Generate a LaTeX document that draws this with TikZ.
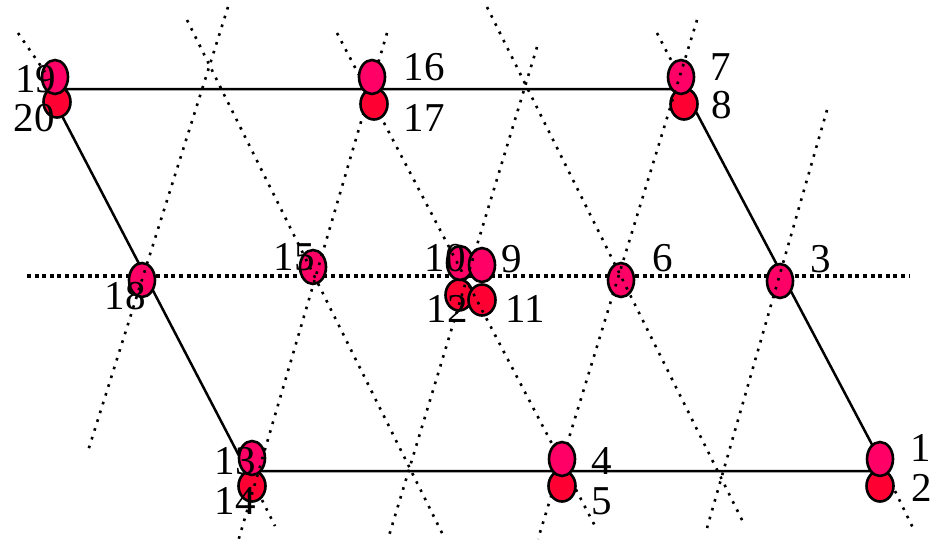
\documentclass[tikz,border=0pt]{standalone}
\usepackage{fontspec}
\setmainfont{Liberation Serif}
\usetikzlibrary{shapes.geometric}
\definecolor{sitepink}{RGB}{255,0,102}
\definecolor{sitered}{RGB}{255,0,51}

\begin{document}
\begin{tikzpicture}[x=1pt,y=-1pt,
  site/.style={ellipse,draw=black,line width=2.6pt,inner sep=0pt,
               minimum width=26pt,minimum height=34pt,fill=sitepink},
  lowsite/.style={site,minimum width=27pt,minimum height=31pt,fill=sitered},
  edge/.style={line width=2.5pt},
  axis/.style={line width=4pt,dash pattern=on 4pt off 3.6pt},
  guide/.style={line width=2.6pt,dash pattern=on 2.6pt off 6.6pt},
  num/.style={font=\fontsize{41}{41}\selectfont,inner sep=0pt}]

\useasboundingbox (0,0) rectangle (939,546);

% ---- corners of the cell ----
\coordinate (tl) at (48,89);
\coordinate (tr) at (684,89);
\coordinate (br) at (886,471);
\coordinate (bl) at (247,471);
\coordinate (al) at (27,276);
\coordinate (ar) at (909,276);

\draw[edge] (tl) -- (tr) -- (br) -- (bl) -- cycle;
\draw[axis] (al) -- (ar);

% ---- sites: \site{name}{x}{y}{style}
\newcommand{\site}[4]{
  \node[#4] (s#1) at (#2,#3) {};
}

% under the guide lines
\site{20}{57}{102}{lowsite}
\site{19}{55}{77}{site}
\site{8}{684}{104}{lowsite}
\site{7}{681}{77}{site}
\site{18}{142}{280}{site}
\site{15}{313}{267}{site}
\site{12}{459}{295}{lowsite}
\site{11}{482}{300}{lowsite}
\site{10}{460}{263}{site}
\site{9}{482}{265}{site}
\site{6}{621}{280}{site}
\site{3}{780}{281}{site}
\site{14}{252}{486}{lowsite}
\site{13}{252}{458}{site}

% ---- dotted guide lines
\foreach \xa/\ya/\xb/\yb in {18/33/45/72, 228/7/88/451, 187/20/445/539,
    387/33/237/545, 337/33/595/526, 537/47/388/539, 487/7/745/526,
    697/20/538/539, 657/33/672/62, 827/110/707/528, 895/491/913/528,
    262/500/275/526} {
  \draw[guide] (\xa,\ya) -- (\xb,\yb);
}

% over the guide lines
\site{17}{374}{104}{lowsite}
\site{16}{372}{77}{site}
\site{5}{562}{486}{lowsite}
\site{4}{562}{459}{site}
\site{2}{880}{486}{lowsite}
\site{1}{880}{459}{site}

% ---- labels
\foreach \n/\x/\y in {19/36/79, 20/34/118, 16/424/67, 17/424/118,
    7/721/67, 8/722/105, 18/125/296, 15/294/257, 10/445/258, 9/512/259,
    12/447/309, 11/525/309, 6/663/258, 3/821/259, 13/235/461, 14/235/501,
    4/602/461, 5/602/501, 1/921/448, 2/922/488} {
  \node[num] (l\n) at (\x,\y) {\n};
}

\end{tikzpicture}
\end{document}
